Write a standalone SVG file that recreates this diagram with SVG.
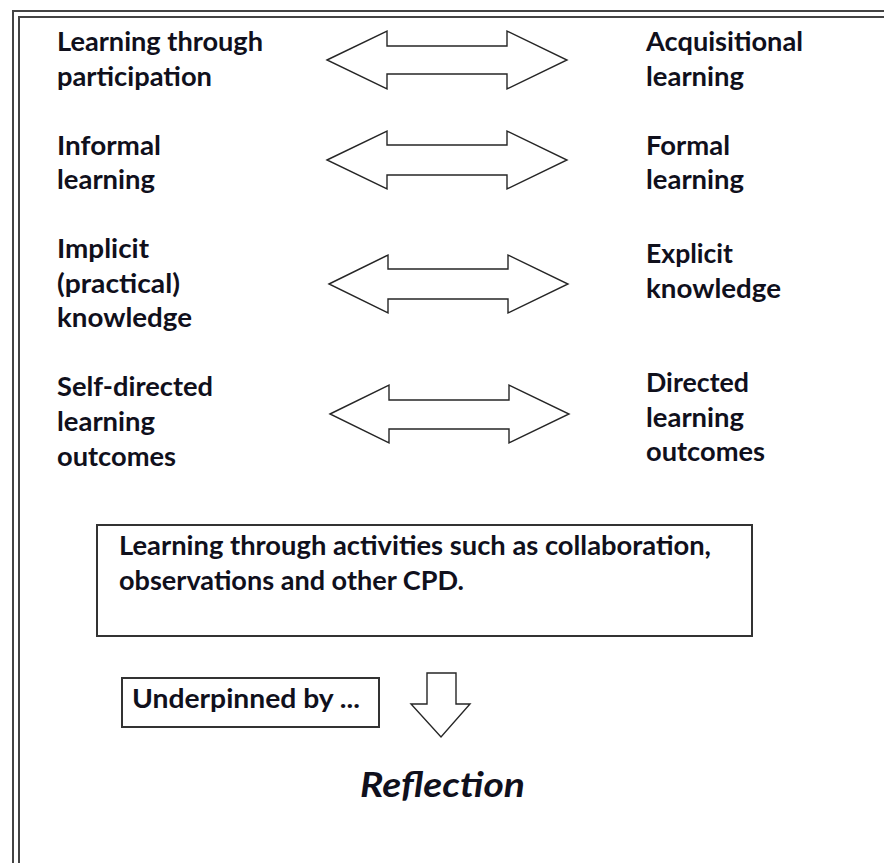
<svg xmlns="http://www.w3.org/2000/svg" width="884" height="863" viewBox="0 0 884 863">
<style>
.t{font-family:Lato,"Liberation Sans",sans-serif;font-weight:bold;font-size:27px;fill:#10101c}
.r{font-size:35px;font-style:italic}
.frame{fill:none;stroke:#444;stroke-width:2}
.arrow{fill:#fff;stroke:#262626;stroke-width:1.4;stroke-linejoin:miter}
.box{fill:#fff;stroke:#333;stroke-width:2}
</style>
<rect width="884" height="863" fill="#fff"/>
<g id="frame">
<rect class="frame" x="13" y="11" width="900" height="900"/>
<rect class="frame" x="19" y="17" width="900" height="900"/>
</g>
<g id="connectors">
<path class="arrow" d="M327,60 L387,31 L387,46 L507,46 L507,31 L567,60 L507,89 L507,74 L387,74 L387,89 Z"/>
<path class="arrow" d="M327,160 L387,131 L387,145 L507,145 L507,131 L567,160 L507,189 L507,175 L387,175 L387,189 Z"/>
<path class="arrow" d="M329,284 L388,255 L388,269 L508,269 L508,255 L568,284 L508,313 L508,299 L388,299 L388,313 Z"/>
<path class="arrow" d="M330,414 L389,385 L389,400 L509,400 L509,385 L569,414 L509,443 L509,429 L389,429 L389,443 Z"/>
<path class="arrow" d="M427,673 L456,673 L456,704 L470,704 L441,737 L411,704 L427,704 Z"/>
</g>
<g id="n-participation"><text class="t" x="57" y="51" textLength="206" lengthAdjust="spacingAndGlyphs">Learning through</text><text class="t" x="57" y="85.5" textLength="155" lengthAdjust="spacingAndGlyphs">participation</text></g>
<g id="n-acquisitional"><text class="t" x="646" y="51" textLength="157" lengthAdjust="spacingAndGlyphs">Acquisitional</text><text class="t" x="646" y="85.5" textLength="98" lengthAdjust="spacingAndGlyphs">learning</text></g>
<g id="n-informal"><text class="t" x="57" y="154.5" textLength="104" lengthAdjust="spacingAndGlyphs">Informal</text><text class="t" x="57" y="189" textLength="98" lengthAdjust="spacingAndGlyphs">learning</text></g>
<g id="n-formal"><text class="t" x="646" y="154.5" textLength="84" lengthAdjust="spacingAndGlyphs">Formal</text><text class="t" x="646" y="189" textLength="98" lengthAdjust="spacingAndGlyphs">learning</text></g>
<g id="n-implicit"><text class="t" x="57" y="258" textLength="92" lengthAdjust="spacingAndGlyphs">Implicit</text><text class="t" x="57" y="292.5" textLength="123" lengthAdjust="spacingAndGlyphs">(practical)</text><text class="t" x="57" y="327" textLength="135" lengthAdjust="spacingAndGlyphs">knowledge</text></g>
<g id="n-explicit"><text class="t" x="646" y="263" textLength="87" lengthAdjust="spacingAndGlyphs">Explicit</text><text class="t" x="646" y="297.5" textLength="135" lengthAdjust="spacingAndGlyphs">knowledge</text></g>
<g id="n-selfdirected"><text class="t" x="57" y="396" textLength="156" lengthAdjust="spacingAndGlyphs">Self-directed</text><text class="t" x="57" y="430.5" textLength="98" lengthAdjust="spacingAndGlyphs">learning</text><text class="t" x="57" y="466" textLength="119" lengthAdjust="spacingAndGlyphs">outcomes</text></g>
<g id="n-directed"><text class="t" x="646" y="392" textLength="103" lengthAdjust="spacingAndGlyphs">Directed</text><text class="t" x="646" y="426.5" textLength="98" lengthAdjust="spacingAndGlyphs">learning</text><text class="t" x="646" y="461" textLength="119" lengthAdjust="spacingAndGlyphs">outcomes</text></g>
<g id="n-activities"><rect class="box" x="97" y="525" width="655" height="111"/><text class="t" x="119" y="555" textLength="592" lengthAdjust="spacingAndGlyphs">Learning through activities such as collaboration,</text><text class="t" x="119" y="590" textLength="345" lengthAdjust="spacingAndGlyphs">observations and other CPD.</text></g>
<g id="n-underpinned"><rect class="box" x="122" y="678" width="257" height="49"/><text class="t" x="132" y="708" textLength="228" lengthAdjust="spacingAndGlyphs">Underpinned by ...</text></g>
<g id="n-reflection"><text class="t r" x="360" y="797" textLength="165" lengthAdjust="spacingAndGlyphs">Reflection</text></g>
</svg>
